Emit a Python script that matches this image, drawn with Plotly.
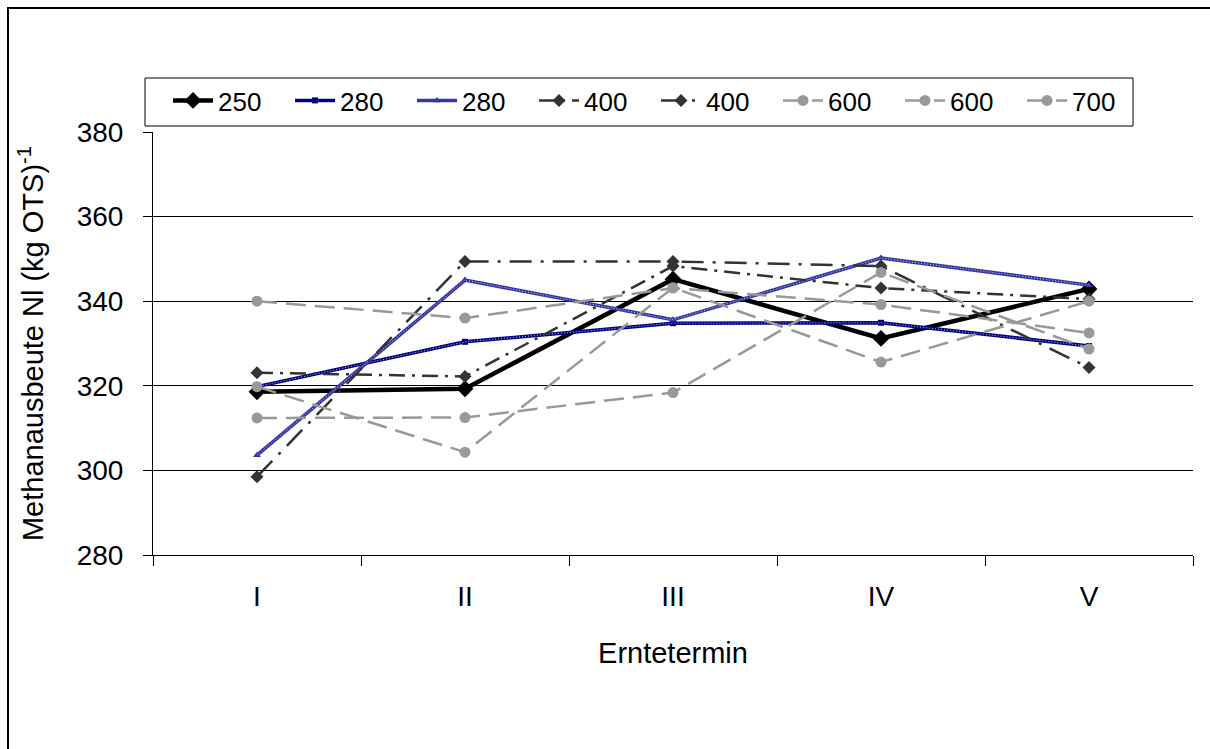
import plotly.graph_objects as go

categories = ["I", "II", "III", "IV", "V"]
series_names = ["250", "280", "280", "400", "400", "600", "600", "700"]
s250 = [318.6, 319.3, 345.2, 331.2, 342.9]
s280a = [319.8, 330.4, 334.8, 334.9, 329.4]
s280b = [303.6, 345.0, 335.6, 350.2, 343.8]
s400a = [323.1, 322.2, 348.3, 343.1, 340.5]
s400b = [298.5, 349.4, 349.4, 348.3, 324.3]
s600a = [340.0, 336.0, 343.1, 339.2, 332.5]
s600b = [319.8, 304.3, 343.2, 325.6, 340.0]
s700 = [312.4, 312.5, 318.4, 346.8, 328.7]

values = [s250, s280a, s280b, s400a, s400b, s600a, s600b, s700]
styles = [
    dict(color="#000000", width=4.5, dash="solid", symbol="diamond", msize=13, dots=False),
    dict(color="#000080", width=3.5, dash="solid", symbol="square", msize=6, dots=True),
    dict(color="#3535a5", width=3.5, dash="solid", symbol="triangle-up", msize=7, dots=True),
    dict(color="#333333", width=2.5, dash="16px,7px,3px,7px", symbol="diamond", msize=10, dots=False),
    dict(color="#333333", width=2.5, dash="22px,9px,3px,9px", symbol="diamond", msize=10, dots=False),
    dict(color="#999999", width=2.5, dash="20px,9px", symbol="circle", msize=11, dots=False),
    dict(color="#999999", width=2.5, dash="20px,9px", symbol="circle", msize=11, dots=False),
    dict(color="#999999", width=2.5, dash="20px,9px", symbol="circle", msize=11, dots=False),
]

fig = go.Figure()
for i, (name, vals, st) in enumerate(zip(series_names, values, styles)):
    fig.add_trace(go.Scatter(
        x=categories, y=vals, name=name, mode="lines+markers", legendgroup=f"g{i}",
        line=dict(color=st["color"], width=st["width"], dash=st["dash"]),
        marker=dict(symbol=st["symbol"], size=st["msize"], color=st["color"]),
    ))
    if st["dots"]:
        fig.add_trace(go.Scatter(
            x=categories, y=vals, mode="lines", showlegend=False, legendgroup=f"g{i}",
            hoverinfo="skip",
            line=dict(color="rgba(255,255,255,0.75)", width=1, dash="1px,2px"),
        ))

# pixel layout helpers (plot area: x 153..1193, y 132..555)
def px_x(p):
    return (p - 153) / 1040

def px_y(p):
    return (555 - p) / 423

font = "Liberation Sans, Arial, sans-serif"
fig.update_layout(
    width=1210, height=749,
    margin=dict(l=153, r=17, t=132, b=194),
    paper_bgcolor="white", plot_bgcolor="white",
    font=dict(family=font, size=28, color="black"),
    showlegend=True,
    legend=dict(
        orientation="h", x=px_x(168), y=px_y(77), xanchor="left", yanchor="top",
        borderwidth=0, bgcolor="rgba(0,0,0,0)",
        font=dict(size=26), entrywidth=67, entrywidthmode="pixels",
        itemwidth=40, tracegroupgap=0,
    ),
    xaxis=dict(
        type="category", range=[-0.5, 4.5], tickson="boundaries", ticks="outside", ticklen=10,
        tickcolor="black", showline=True, linecolor="black", linewidth=1,
        showgrid=False, title=dict(text="Erntetermin", font=dict(size=29), standoff=32),
        tickfont=dict(size=28), ticklabelstandoff=16,
    ),
    yaxis=dict(
        range=[280, 380], dtick=20, ticks="outside", ticklen=9, tickcolor="black",
        showline=True, linecolor="black", linewidth=1,
        showgrid=True, gridcolor="black", gridwidth=1,
        title=dict(text="Methanausbeute Nl (kg OTS)<sup>-1</sup>", font=dict(size=29), standoff=24),
        tickfont=dict(size=28), ticklabelstandoff=14,
    ),
    shapes=[
        dict(type="rect", xref="paper", yref="paper",
             x0=px_x(8), x1=px_x(1215), y0=px_y(755), y1=px_y(8),
             line=dict(color="black", width=2), fillcolor="rgba(0,0,0,0)", layer="below"),
        dict(type="rect", xref="paper", yref="paper",
             x0=px_x(145), x1=px_x(1133), y0=px_y(126), y1=px_y(78),
             line=dict(color="black", width=1), fillcolor="white", layer="below"),
    ],
)

fig.write_html("out.html")
